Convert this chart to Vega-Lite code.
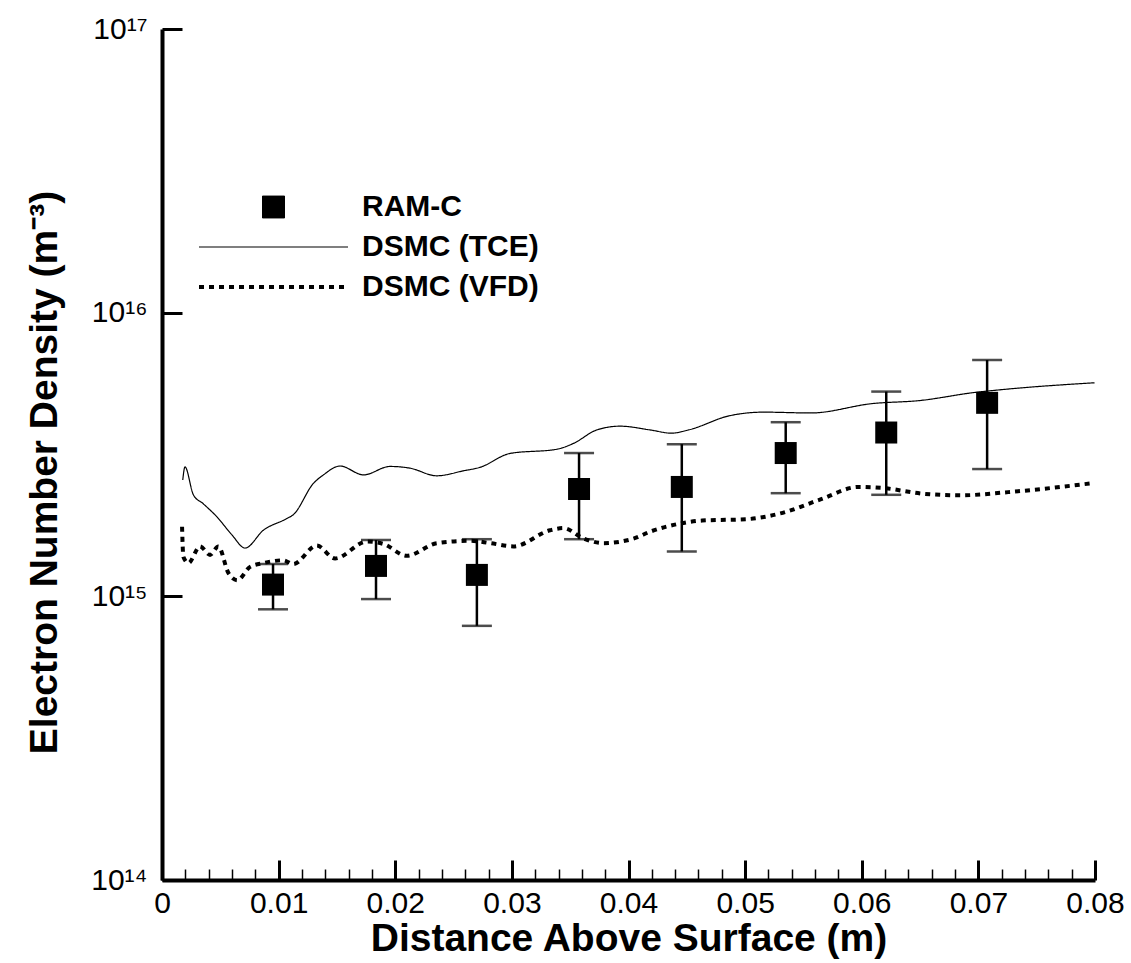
{
  "$schema": "https://vega.github.io/schema/vega-lite/v6.json",
  "width": 933,
  "height": 851,
  "autosize": "none",
  "padding": {"left": 162, "top": 29, "right": 36, "bottom": 83},
  "background": "white",
  "config": {
    "view": {"stroke": null},
    "font": "Liberation Sans",
    "axis": {
      "grid": false,
      "domainColor": "black",
      "domainWidth": 4,
      "tickColor": "black",
      "labelColor": "black",
      "titleColor": "black",
      "labelFont": "Liberation Sans",
      "titleFont": "Liberation Sans",
      "labelFontSize": 30,
      "titleFontSize": 39,
      "titleFontWeight": "bold",
      "labelOverlap": false,
      "labelFlush": false
    },
    "legend": {
      "labelFont": "Liberation Sans",
      "labelFontSize": 30,
      "labelFontWeight": "bold",
      "labelColor": "black",
      "labelLimit": 500
    }
  },
  "data": {
    "values": [
      {"series": "RAM-C", "x": 0.00952, "n": 1.10e15, "lo": 9.0e14, "hi": 1.30e15},
      {"series": "RAM-C", "x": 0.01835, "n": 1.28e15, "lo": 9.78e14, "hi": 1.58e15},
      {"series": "RAM-C", "x": 0.0270, "n": 1.19e15, "lo": 7.87e14, "hi": 1.59e15},
      {"series": "RAM-C", "x": 0.03576, "n": 2.39e15, "lo": 1.59e15, "hi": 3.20e15},
      {"series": "RAM-C", "x": 0.04457, "n": 2.43e15, "lo": 1.44e15, "hi": 3.44e15},
      {"series": "RAM-C", "x": 0.05348, "n": 3.20e15, "lo": 2.31e15, "hi": 4.11e15},
      {"series": "RAM-C", "x": 0.0621, "n": 3.78e15, "lo": 2.28e15, "hi": 5.27e15},
      {"series": "RAM-C", "x": 0.07075, "n": 4.81e15, "lo": 2.81e15, "hi": 6.81e15},

      {"series": "DSMC (TCE)", "x": 0.00178, "n": 2.57e15},
      {"series": "DSMC (TCE)", "x": 0.00197, "n": 2.86e15},
      {"series": "DSMC (TCE)", "x": 0.00269, "n": 2.28e15},
      {"series": "DSMC (TCE)", "x": 0.00354, "n": 2.12e15},
      {"series": "DSMC (TCE)", "x": 0.00469, "n": 1.91e15},
      {"series": "DSMC (TCE)", "x": 0.00598, "n": 1.65e15},
      {"series": "DSMC (TCE)", "x": 0.00712, "n": 1.48e15},
      {"series": "DSMC (TCE)", "x": 0.00869, "n": 1.71e15},
      {"series": "DSMC (TCE)", "x": 0.0107, "n": 1.88e15},
      {"series": "DSMC (TCE)", "x": 0.01126, "n": 1.94e15},
      {"series": "DSMC (TCE)", "x": 0.01298, "n": 2.50e15},
      {"series": "DSMC (TCE)", "x": 0.01384, "n": 2.68e15},
      {"series": "DSMC (TCE)", "x": 0.01527, "n": 2.88e15},
      {"series": "DSMC (TCE)", "x": 0.01727, "n": 2.68e15},
      {"series": "DSMC (TCE)", "x": 0.01955, "n": 2.87e15},
      {"series": "DSMC (TCE)", "x": 0.02127, "n": 2.83e15},
      {"series": "DSMC (TCE)", "x": 0.02356, "n": 2.66e15},
      {"series": "DSMC (TCE)", "x": 0.02584, "n": 2.77e15},
      {"series": "DSMC (TCE)", "x": 0.02727, "n": 2.85e15},
      {"series": "DSMC (TCE)", "x": 0.02985, "n": 3.19e15},
      {"series": "DSMC (TCE)", "x": 0.03385, "n": 3.30e15},
      {"series": "DSMC (TCE)", "x": 0.03528, "n": 3.46e15},
      {"series": "DSMC (TCE)", "x": 0.03728, "n": 3.86e15},
      {"series": "DSMC (TCE)", "x": 0.03928, "n": 3.98e15},
      {"series": "DSMC (TCE)", "x": 0.04185, "n": 3.86e15},
      {"series": "DSMC (TCE)", "x": 0.04369, "n": 3.76e15},
      {"series": "DSMC (TCE)", "x": 0.04515, "n": 3.86e15},
      {"series": "DSMC (TCE)", "x": 0.04865, "n": 4.33e15},
      {"series": "DSMC (TCE)", "x": 0.05156, "n": 4.46e15},
      {"series": "DSMC (TCE)", "x": 0.05564, "n": 4.43e15},
      {"series": "DSMC (TCE)", "x": 0.06089, "n": 4.78e15},
      {"series": "DSMC (TCE)", "x": 0.06497, "n": 4.90e15},
      {"series": "DSMC (TCE)", "x": 0.06964, "n": 5.23e15},
      {"series": "DSMC (TCE)", "x": 0.07256, "n": 5.38e15},
      {"series": "DSMC (TCE)", "x": 0.07996, "n": 5.66e15},

      {"series": "DSMC (VFD)", "x": 0.00172, "n": 1.76e15},
      {"series": "DSMC (VFD)", "x": 0.00183, "n": 1.38e15},
      {"series": "DSMC (VFD)", "x": 0.00226, "n": 1.31e15},
      {"series": "DSMC (VFD)", "x": 0.00326, "n": 1.50e15},
      {"series": "DSMC (VFD)", "x": 0.00412, "n": 1.40e15},
      {"series": "DSMC (VFD)", "x": 0.00483, "n": 1.50e15},
      {"series": "DSMC (VFD)", "x": 0.00569, "n": 1.21e15},
      {"series": "DSMC (VFD)", "x": 0.00646, "n": 1.14e15},
      {"series": "DSMC (VFD)", "x": 0.00755, "n": 1.27e15},
      {"series": "DSMC (VFD)", "x": 0.00869, "n": 1.31e15},
      {"series": "DSMC (VFD)", "x": 0.0104, "n": 1.34e15},
      {"series": "DSMC (VFD)", "x": 0.01126, "n": 1.30e15},
      {"series": "DSMC (VFD)", "x": 0.01327, "n": 1.51e15},
      {"series": "DSMC (VFD)", "x": 0.01484, "n": 1.36e15},
      {"series": "DSMC (VFD)", "x": 0.01756, "n": 1.56e15},
      {"series": "DSMC (VFD)", "x": 0.01898, "n": 1.53e15},
      {"series": "DSMC (VFD)", "x": 0.02099, "n": 1.39e15},
      {"series": "DSMC (VFD)", "x": 0.02356, "n": 1.54e15},
      {"series": "DSMC (VFD)", "x": 0.02642, "n": 1.57e15},
      {"series": "DSMC (VFD)", "x": 0.02813, "n": 1.54e15},
      {"series": "DSMC (VFD)", "x": 0.03013, "n": 1.50e15},
      {"series": "DSMC (VFD)", "x": 0.03328, "n": 1.71e15},
      {"series": "DSMC (VFD)", "x": 0.03442, "n": 1.74e15},
      {"series": "DSMC (VFD)", "x": 0.03614, "n": 1.60e15},
      {"series": "DSMC (VFD)", "x": 0.03785, "n": 1.54e15},
      {"series": "DSMC (VFD)", "x": 0.04048, "n": 1.60e15},
      {"series": "DSMC (VFD)", "x": 0.04185, "n": 1.69e15},
      {"series": "DSMC (VFD)", "x": 0.04427, "n": 1.80e15},
      {"series": "DSMC (VFD)", "x": 0.04631, "n": 1.85e15},
      {"series": "DSMC (VFD)", "x": 0.0501, "n": 1.87e15},
      {"series": "DSMC (VFD)", "x": 0.05302, "n": 1.96e15},
      {"series": "DSMC (VFD)", "x": 0.05652, "n": 2.20e15},
      {"series": "DSMC (VFD)", "x": 0.05972, "n": 2.43e15},
      {"series": "DSMC (VFD)", "x": 0.06177, "n": 2.41e15},
      {"series": "DSMC (VFD)", "x": 0.06527, "n": 2.30e15},
      {"series": "DSMC (VFD)", "x": 0.06847, "n": 2.27e15},
      {"series": "DSMC (VFD)", "x": 0.07256, "n": 2.33e15},
      {"series": "DSMC (VFD)", "x": 0.07996, "n": 2.51e15}
    ]
  },
  "encoding": {
    "x": {
      "field": "x",
      "type": "quantitative",
      "scale": {"domain": [0, 0.08], "nice": false, "zero": false},
      "axis": {
        "title": "Distance Above Surface (m)",
        "titleBaseline": "alphabetic",
        "titleY": 70,
        "values": [0, 0.002, 0.004, 0.006, 0.008, 0.01, 0.012, 0.014, 0.016, 0.018, 0.02, 0.022, 0.024, 0.026, 0.028, 0.03, 0.032, 0.034, 0.036, 0.038, 0.04, 0.042, 0.044, 0.046, 0.048, 0.05, 0.052, 0.054, 0.056, 0.058, 0.06, 0.062, 0.064, 0.066, 0.068, 0.07, 0.072, 0.074, 0.076, 0.078, 0.08],
        "labelExpr": "abs(datum.value*100 - round(datum.value*100)) < 0.001 ? (datum.value == 0 ? '0' : format(datum.value, '.2f')) : ''",
        "tickSize": {"condition": {"test": "abs(datum.value*100 - round(datum.value*100)) < 0.001", "value": -20}, "value": -11},
        "tickWidth": {"condition": {"test": "abs(datum.value*100 - round(datum.value*100)) < 0.001", "value": 3}, "value": 1.5},
        "labelPadding": 28
      }
    },
    "y": {
      "field": "n",
      "type": "quantitative",
      "scale": {"type": "log", "domain": [1e14, 1e17], "nice": false},
      "axis": {
        "title": "Electron Number Density (m⁻³)",
        "titleBaseline": "alphabetic",
        "titleX": -106,
        "titleY": 443,
        "titleAngle": -90,
        "titleAlign": "center",
        "values": [1e14, 1e15, 1e16, 1e17],
        "labelExpr": "'10' + (datum.value < 5e14 ? '¹⁴' : datum.value < 5e15 ? '¹⁵' : datum.value < 5e16 ? '¹⁶' : '¹⁷')",
        "tickSize": -20,
        "tickWidth": 3,
        "labelPadding": 35
      }
    }
  },
  "layer": [
    {
      "transform": [{"filter": "datum.series == 'RAM-C'"}],
      "mark": {"type": "errorbar", "color": "black", "ticks": {"size": 30, "thickness": 2.5, "color": "black"}, "rule": {"strokeWidth": 2.5, "color": "black"}},
      "encoding": {
        "y": {"field": "lo", "type": "quantitative", "title": "Electron Number Density (m⁻³)"},
        "y2": {"field": "hi"}
      }
    },
    {
      "transform": [{"filter": "datum.series != 'RAM-C'"}],
      "mark": {"type": "line", "color": "black", "interpolate": "monotone"},
      "encoding": {
        "detail": {"field": "series"},
        "strokeDash": {
          "field": "series", "type": "nominal",
          "scale": {"domain": ["RAM-C", "DSMC (TCE)", "DSMC (VFD)"], "range": [[1, 0], [1, 0], [5, 5]]}
        },
        "strokeWidth": {
          "field": "series", "type": "nominal",
          "scale": {"type": "ordinal", "domain": ["RAM-C", "DSMC (TCE)", "DSMC (VFD)"], "range": [1, 1.2, 4]}
        }
      }
    },
    {
      "transform": [{"filter": "datum.series == 'RAM-C'"}],
      "mark": {"type": "point", "filled": true, "color": "black", "opacity": 1},
      "encoding": {
        "shape": {
          "field": "series", "type": "nominal",
          "scale": {"domain": ["RAM-C", "DSMC (TCE)", "DSMC (VFD)"], "range": ["square", "stroke", "stroke"]},
          "legend": {
            "title": null,
            "orient": "none",
            "legendX": 35,
            "legendY": 158,
            "padding": 0,
            "rowPadding": 0,
            "clipHeight": 40,
            "labelOffset": 12,
            "labelLimit": 500,
            "symbolFillColor": "black",
            "symbolStrokeColor": "black",
            "values": ["RAM-C", "DSMC (TCE)", "DSMC (VFD)"]
          }
        },
        "size": {
          "field": "series", "type": "nominal",
          "scale": {"type": "ordinal", "domain": ["RAM-C", "DSMC (TCE)", "DSMC (VFD)"], "range": [484, 22201, 22201]}
        }
      }
    }
  ]
}
